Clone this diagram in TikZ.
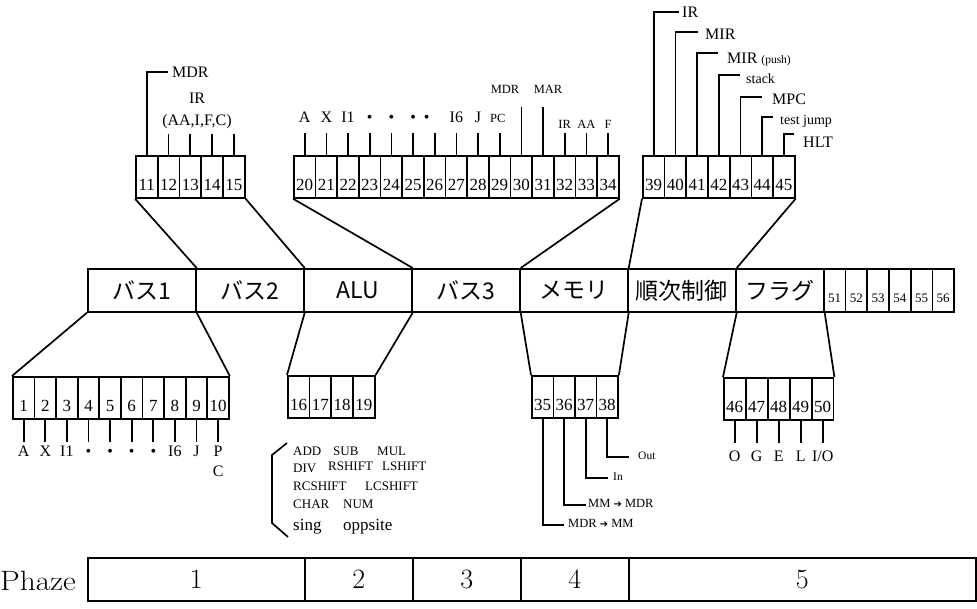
\documentclass[tikz,border=0pt]{standalone}
\usepackage{fontspec}
\usepackage{graphicx}
\newfontfamily\labfont{Liberation Serif}
\newfontfamily\jpfont{Noto Sans CJK JP}
\newfontfamily\symfont{DejaVu Sans}
\newcommand{\ar}{{\symfont\fontsize{10}{10}\selectfont ➔}}
\begin{document}
\begin{tikzpicture}[x=1pt,y=-1pt,
  ln/.style={line width=1.7pt},
  cell/.style={draw,line width=1.7pt,anchor=north west,minimum width=21.7pt,inner sep=0pt,text height=35pt,text depth=7pt,font=\labfont\fontsize{17}{17}\selectfont},
  smallcell/.style={cell,text height=34pt,text depth=9pt,font=\labfont\fontsize{13}{13}\selectfont},
  seg/.style={draw,line width=1.7pt,anchor=north west,minimum height=43pt,inner sep=0pt,font=\jpfont\fontsize{23}{23}\selectfont},
  phz/.style={draw,line width=1.7pt,anchor=north west,minimum height=43pt,inner sep=0pt,font=\fontsize{28}{28}\selectfont},
  lab/.style={inner sep=0pt,anchor=base,font=\labfont\fontsize{16}{16}\selectfont},
  labw/.style={lab,anchor=base west},
  sm/.style={font=\labfont\fontsize{12.5}{12.5}\selectfont},
  op/.style={labw,font=\labfont\fontsize{13}{13}\selectfont}
]
\useasboundingbox (0,0) rectangle (977,608);

% ---------- main bar ----------
\node[seg,minimum width=108pt] (bus1) at (87,268) {バス1};
\node[seg,minimum width=108pt] (bus2) at (195,268) {バス2};
\node[seg,minimum width=108pt] (alu) at (303,268) {ALU};
\node[seg,minimum width=108pt] (bus3) at (411,268) {バス3};
\node[seg,minimum width=108pt] (mem) at (519,268) {メモリ};
\node[seg,minimum width=108pt] (seq) at (627,268) {順次制御};
\node[seg,minimum width=88pt] (flag) at (735,268) {フラグ};
\foreach \i in {51,...,56} \node[smallcell] (b\i) at ({823+21.7*(\i-51)},268) {\i};

% ---------- top boxes ----------
\foreach \i in {11,...,15} \node[cell] (b\i) at ({135+21.8*(\i-11)},155) {\i};
\foreach \i in {20,...,34} \node[cell] (b\i) at ({293+21.67*(\i-20)},155) {\i};
\foreach \i in {39,...,45} \node[cell] (b\i) at ({642+21.7*(\i-39)},155) {\i};

% ---------- bottom boxes ----------
\foreach \i in {1,...,10} \node[cell] (b\i) at ({12+21.6*(\i-1)},376) {\i};
\foreach \i in {16,...,19} \node[cell] (b\i) at ({287+21.75*(\i-16)},375) {\i};
\foreach \i in {35,...,38} \node[cell] (b\i) at ({531+21.5*(\i-35)},375) {\i};
\foreach \i in {46,...,50} \node[cell] (b\i) at ({723+22*(\i-46)},377) {\i};

% ---------- fan connectors ----------
\draw[ln] (b11.south west) -- (bus1.north east);
\draw[ln] (b15.south east) -- (bus2.north east);
\draw[ln] (b20.south west) -- (alu.north east);
\draw[ln] (b34.south east) -- (bus3.north east);
\draw[ln] (b39.south west) -- (mem.north east);
\draw[ln] (b45.south east) -- (seq.north east);
\draw[ln] (b1.north west) -- (bus1.south west);
\draw[ln] (b10.north east) -- (bus1.south east);
\draw[ln] (b16.north west) -- (bus2.south east);
\draw[ln] (b19.north east) -- (alu.south east);
\draw[ln] (b35.north west) -- (bus3.south east);
\draw[ln] (b38.north east) -- (mem.south east);
\draw[ln] (b46.north west) -- (seq.south east);
\draw[ln] (b50.north east) -- (flag.south east);

% ---------- top-left signals ----------
\foreach \i in {12,...,15} \draw[ln] (b\i.north) -- ++(0,-21);
\draw[ln] (b11.north) -- ++(0,-83) -- ++(21,0);
\node[labw] (tMDR) at (172,77) {MDR};
\node[lab] (tIR) at (197,103) {IR};
\node[lab] (tIRf) at (197,125) {(AA,I,F,C)};

% ---------- top-middle signals ----------
\foreach \i in {20,...,29} \draw[ln] (b\i.north) -- ++(0,-22);
\foreach \i in {32,33,34} \draw[ln] (b\i.north) -- ++(0,-22);
\draw[ln] (b30.north) -- ++(0,-48);
\draw[ln] (b31.north) -- ++(0,-48);
\foreach \i/\t in {20/A,21/X,22/I1,23/•,24/•,25/•,27/I6,28/J}
  \node[lab] (t\i) at ([yshift=33pt]b\i.north) {\t};
\node[lab] (t26) at ([xshift=-8pt,yshift=33pt]b26.north) {•};
\node[lab,sm] (t29) at ([xshift=-2pt,yshift=33pt]b29.north) {PC};
\node[lab,sm] (t30) at (505,93) {MDR};
\node[lab,sm] (t31) at (548,93) {MAR};
\node[lab,sm] (t32) at ([yshift=27pt]b32.north) {IR};
\node[lab,sm] (t33) at ([yshift=27pt]b33.north) {AA};
\node[lab,sm] (t34) at ([yshift=27pt]b34.north) {F};

% ---------- top-right signals ----------
\draw[ln] (b39.north) -- ++(0,-143) -- ++(25,0);
\draw[ln] (b40.north) -- ++(0,-123) -- ++(23,0);
\draw[ln] (b41.north) -- ++(0,-102) -- ++(21,0);
\draw[ln] (b42.north) -- ++(0,-80) -- ++(21,0);
\draw[ln] (b43.north) -- ++(0,-58) -- ++(21,0);
\draw[ln] (b44.north) -- ++(0,-38) -- ++(11,0);
\draw[ln] (b45.north) -- ++(0,-21) -- ++(10,0);
\node[labw] (t39) at (682,17) {IR};
\node[labw] (t40) at (705,39) {MIR};
\node[labw] (t41) at (727,63) {MIR {\fontsize{11.5}{11.5}\selectfont (push)}};
\node[labw,font=\labfont\fontsize{14}{14}\selectfont] (t42) at (746,83) {stack};
\node[labw] (t43) at (772,104) {MPC};
\node[labw,font=\labfont\fontsize{14}{14}\selectfont] (t44) at (780,124) {test jump};
\node[labw] (t45) at (803,147) {HLT};

% ---------- bottom-left signals ----------
\foreach \i/\t in {1/A,2/X,3/I1,4/•,5/•,6/•,7/•,8/I6,9/J,10/P} {
  \draw[ln] (b\i.south) -- ++(0,22);
  \node[lab] (u\i) at ([yshift=-37pt]b\i.south) {\t};
}
\node[lab] (u10b) at ([yshift=-57pt]b10.south) {C};

% ---------- ALU operations ----------
\draw[ln] (287,443) -- (272,455) -- (272,523) -- (288,537);
\node[op] (o1) at (293,455) {ADD};
\node[op] (o2) at (333,455) {SUB};
\node[op] (o3) at (377,455) {MUL};
\node[op] (o4) at (293,472) {DIV};
\node[op] (o5) at (328,470) {RSHIFT};
\node[op] (o6) at (382,470) {LSHIFT};
\node[op] (o7) at (293,490) {RCSHIFT};
\node[op] (o8) at (365,490) {LCSHIFT};
\node[op] (o9) at (293,508) {CHAR};
\node[op] (o10) at (343,508) {NUM};
\node[labw,font=\labfont\fontsize{17}{17}\selectfont] (o11) at (293,530) {sing};
\node[labw,font=\labfont\fontsize{17}{17}\selectfont] (o12) at (343,530) {oppsite};

% ---------- memory signals ----------
\draw[ln] (b35.south) -- ++(0,106) -- ++(21,0);
\draw[ln] (b36.south) -- ++(0,86) -- ++(22,0);
\draw[ln] (b37.south) -- ++(0,59) -- ++(22,0);
\draw[ln] (b38.south) -- ++(0,38) -- ++(22,0);
\node[labw,sm] (m35) at (568,527) {MDR \ar\ MM};
\node[labw,sm] (m36) at (588,507) {MM \ar\ MDR};
\node[labw,font=\labfont\fontsize{11.5}{11.5}\selectfont] (m37) at (613,480) {In};
\node[labw,font=\labfont\fontsize{11.5}{11.5}\selectfont] (m38) at (638,459) {Out};

% ---------- flag signals ----------
\foreach \i in {46,...,50} \draw[ln] (b\i.south) -- ++(0,22);
\node[lab] (f46) at ([yshift=-41pt]b46.south) {O};
\node[lab] (f47) at ([yshift=-41pt]b47.south) {G};
\node[lab] (f48) at ([yshift=-41pt]b48.south) {E};
\node[lab] (f49) at ([yshift=-41pt]b49.south) {L};
\node[lab] (f50) at ([yshift=-41pt]b50.south) {I/O};

% ---------- phase bar ----------
\node[phz,minimum width=217pt] (p1) at (87,557) {1};
\node[phz,minimum width=108pt] (p2) at (304,557) {2};
\node[phz,minimum width=108pt] (p3) at (412,557) {3};
\node[phz,minimum width=108pt] (p4) at (520,557) {4};
\node[phz,minimum width=347pt] (p5) at (628,557) {5};
\node[inner sep=0pt,anchor=base west,font=\fontsize{28}{28}\selectfont] (phaze) at (0,590) {\scalebox{1.12}[1]{Phaze}};
\end{tikzpicture}
\end{document}
